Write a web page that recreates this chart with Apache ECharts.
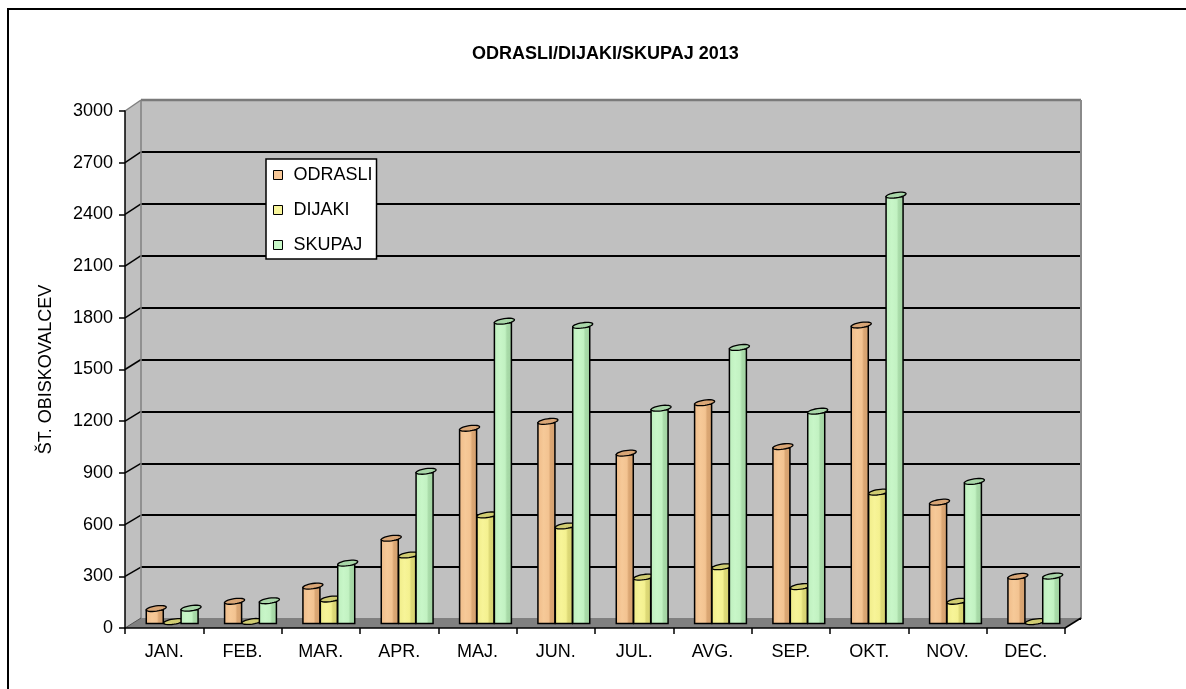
<!DOCTYPE html>
<html>
<head>
<meta charset="utf-8">
<script src="https://cdn.jsdelivr.net/npm/echarts@6/dist/echarts.min.js"></script>
<style>
html, body { margin: 0; padding: 0; background: #fff; }
#container { width: 1186px; height: 689px; }
</style>
</head>
<body>
<div id="container"></div>
<script>
// podatki, odčitani iz grafa
var months = ['JAN.', 'FEB.', 'MAR.', 'APR.', 'MAJ.', 'JUN.', 'JUL.', 'AVG.', 'SEP.', 'OKT.', 'NOV.', 'DEC.']
var seriesNames = ['ODRASLI', 'DIJAKI', 'SKUPAJ']
var odrasli = [78, 120, 208, 485, 1122, 1162, 978, 1270, 1016, 1720, 694, 264]
var dijaki = [2, 3, 133, 388, 620, 556, 260, 320, 205, 752, 120, 2]
var skupaj = [80, 123, 341, 873, 1742, 1718, 1238, 1590, 1221, 2472, 814, 266]
var yTicks = [0, 300, 600, 900, 1200, 1500, 1800, 2100, 2400, 2700, 3000]

var font = '"Liberation Sans", Arial, sans-serif'

// barve stolpcev
var palette = [
    { stops: ['#efbb88', '#f6c998', '#f3c391', '#dba774', '#d49f6d'], cap: '#d9a676', legend: '#f8c898' },
    { stops: ['#efec88', '#f7f498', '#f4f190', '#ddd977', '#d4d06f'], cap: '#d0cc72', legend: '#f8f59a' },
    { stops: ['#bdefbd', '#c8f6c8', '#c2f2c2', '#a9dba9', '#a0d2a0'], cap: '#a8d6a8', legend: '#c8f8c8' },
]

// zadnja stena, sprednje osi
var back = { left: 141, right: 1081, top: 100, bottom: 619 }
var front = { left: 125, right: 1065, top: 111, bottom: 628 }

var makeRender = function (k) {
    var p = palette[k]
    var grad = new echarts.graphic.LinearGradient(0, 0, 1, 0, [
        { offset: 0, color: p.stops[0] },
        { offset: 0.35, color: p.stops[1] },
        { offset: 0.62, color: p.stops[2] },
        { offset: 0.72, color: p.stops[3] },
        { offset: 1, color: p.stops[4] },
    ])
    return function (params, api) {
        var idx = api.value(0)
        var v = api.value(1)
        var base = api.coord([idx, 0])
        var top = api.coord([idx, v])
        var w = 17
        var cx = base[0] + (k - 1) * (w + 0.4)
        var x0 = cx - w / 2
        var children = []
        var h = base[1] - top[1]
        if (h > 1.5) {
            children.push({
                type: 'rect',
                shape: { x: x0, y: top[1], width: w, height: h },
                style: { fill: grad, stroke: '#000', lineWidth: 1.5 },
            })
        }
        // pokrov valja
        var pts = []
        var ecx = cx + 1.5
        var ecy = top[1] - 1.5
        var rx = Math.sqrt((w + 3) * (w + 3) + 9) / 2
        var ry = 2.6
        var a = Math.atan2(-3, w + 3)
        for (var i = 0; i < 28; i++) {
            var t = i / 28 * Math.PI * 2
            var ex = rx * Math.cos(t)
            var ey = ry * Math.sin(t)
            pts.push([ecx + ex * Math.cos(a) - ey * Math.sin(a), ecy + ex * Math.sin(a) + ey * Math.cos(a)])
        }
        children.push({
            type: 'polygon',
            shape: { points: pts },
            style: { fill: p.cap, stroke: '#000', lineWidth: 1.3 },
        })
        return { type: 'group', children: children }
    }
}

var toData = function (arr) {
    return arr.map(function (v, i) { return [i, v] })
}

var allData = [odrasli, dijaki, skupaj]

var myChart = echarts.init(document.getElementById('container'))

var option = {
    backgroundColor: '#fff',
    animation: false,
    title: {
        text: 'ODRASLI/DIJAKI/SKUPAJ 2013',
        left: 472,
        top: 45,
        padding: 0,
        textStyle: { fontFamily: font, fontSize: 18, fontWeight: 'bold', color: '#000' },
    },
    legend: {
        orient: 'vertical',
        left: 266,
        top: 159,
        backgroundColor: '#fff',
        borderColor: '#000',
        borderWidth: 1.5,
        borderRadius: 0,
        padding: [6, 4, 4, 7],
        itemWidth: 9,
        itemHeight: 9,
        itemGap: 15,
        z: 10,
        textStyle: { fontFamily: font, fontSize: 18, lineHeight: 20, color: '#000', padding: [0, 0, 0, 6] },
        data: seriesNames.map(function (n, k) {
            return { name: n, icon: 'rect', itemStyle: { color: palette[k].legend, borderColor: '#000', borderWidth: 1 } }
        }),
    },
    grid: [
        { left: back.left, right: 1186 - back.right, top: back.top, bottom: 689 - back.bottom,
          show: true, backgroundColor: '#c0c0c0', borderWidth: 0 },
        { left: front.left, right: 1186 - front.right, top: front.top, bottom: 689 - front.bottom },
        { left: 133, right: 113, top: 105.5, bottom: 65.5 },
    ],
    xAxis: [
        { gridIndex: 0, type: 'category', data: months, show: false },
        {
            gridIndex: 1, type: 'category', data: months, z: 3,
            axisLine: { lineStyle: { color: '#000', width: 1.5 } },
            axisTick: { show: true, length: 6, lineStyle: { color: '#000', width: 1.5 } },
            axisLabel: { fontFamily: font, fontSize: 18, color: '#000', margin: 15 },
        },
        { gridIndex: 2, type: 'category', data: months, show: false },
    ],
    yAxis: [
        {
            gridIndex: 0, type: 'value', min: 0, max: 3000, interval: 300,
            axisLine: { show: false }, axisTick: { show: false }, axisLabel: { show: false },
            splitLine: { show: true, lineStyle: { color: '#000', width: 2 } },
        },
        {
            gridIndex: 1, type: 'value', min: 0, max: 3000, interval: 300, z: 3,
            name: 'ŠT. OBISKOVALCEV',
            nameLocation: 'middle',
            nameGap: 70,
            nameTextStyle: { fontFamily: font, fontSize: 18, color: '#000' },
            axisLine: { show: true, lineStyle: { color: '#000', width: 1.5 } },
            axisTick: { show: true, length: 6, lineStyle: { color: '#000', width: 1.5 } },
            axisLabel: {
                fontFamily: font, fontSize: 18, color: '#000', margin: 12,
                formatter: function (v) { return String(v) },
            },
            splitLine: { show: false },
        },
        { gridIndex: 2, type: 'value', min: 0, max: 3000, show: false },
    ],
    series: seriesNames.map(function (n, k) {
        return {
            name: n,
            type: 'custom',
            xAxisIndex: 2,
            yAxisIndex: 2,
            z: 5,
            clip: false,
            itemStyle: { color: palette[k].legend },
            renderItem: makeRender(k),
            encode: { x: 0, y: 1 },
            data: toData(allData[k]),
        }
    }),
}

myChart.setOption(option)

// stranska stena, tla in robovi
var fy = function (v) { return myChart.convertToPixel({ yAxisIndex: 1 }, v) }
var by = function (v) { return myChart.convertToPixel({ yAxisIndex: 0 }, v) }

var elements = []
elements.push({
    type: 'rect', z: -1, silent: true,
    shape: { x: 8, y: 9, width: 1400, height: 900 },
    style: { fill: 'none', stroke: '#000', lineWidth: 2 },
})
elements.push({
    type: 'polygon', z: 1, silent: true,
    shape: { points: [[front.left, fy(3000)], [back.left, by(3000)], [back.left, by(0)], [front.left, fy(0)]] },
    style: { fill: '#c0c0c0' },
})
yTicks.forEach(function (t) {
    if (t === 0) return
    elements.push({
        type: 'line', z: 2, silent: true,
        shape: { x1: front.left, y1: fy(t), x2: back.left, y2: by(t) },
        style: { stroke: t === 3000 ? '#808080' : '#000', lineWidth: 1.5 },
    })
})
elements.push({
    type: 'line', z: 2, silent: true,
    shape: { x1: back.left, y1: by(3000), x2: back.right, y2: by(3000) },
    style: { stroke: '#7a7a7a', lineWidth: 2.5 },
})
elements.push({
    type: 'line', z: 2, silent: true,
    shape: { x1: back.left, y1: by(3000), x2: back.left, y2: by(0) },
    style: { stroke: '#808080', lineWidth: 1.5 },
})
elements.push({
    type: 'line', z: 2, silent: true,
    shape: { x1: back.right, y1: by(3000), x2: back.right, y2: by(0) },
    style: { stroke: '#8a8a8a', lineWidth: 2 },
})
elements.push({
    type: 'polygon', z: 2, silent: true,
    shape: { points: [[front.left, fy(0)], [back.left, by(0) - 1], [back.right, by(0) - 1], [front.right, fy(0)]] },
    style: { fill: '#808080' },
})
elements.push({
    type: 'line', z: 2, silent: true,
    shape: { x1: front.left, y1: fy(0), x2: back.left, y2: by(0) - 1 },
    style: { stroke: '#555', lineWidth: 1 },
})
elements.push({
    type: 'line', z: 3, silent: true,
    shape: { x1: front.right, y1: fy(0), x2: back.right, y2: by(0) - 1 },
    style: { stroke: '#000', lineWidth: 1.5 },
})

myChart.setOption({ graphic: { elements: elements } })
</script>
</body>
</html>
